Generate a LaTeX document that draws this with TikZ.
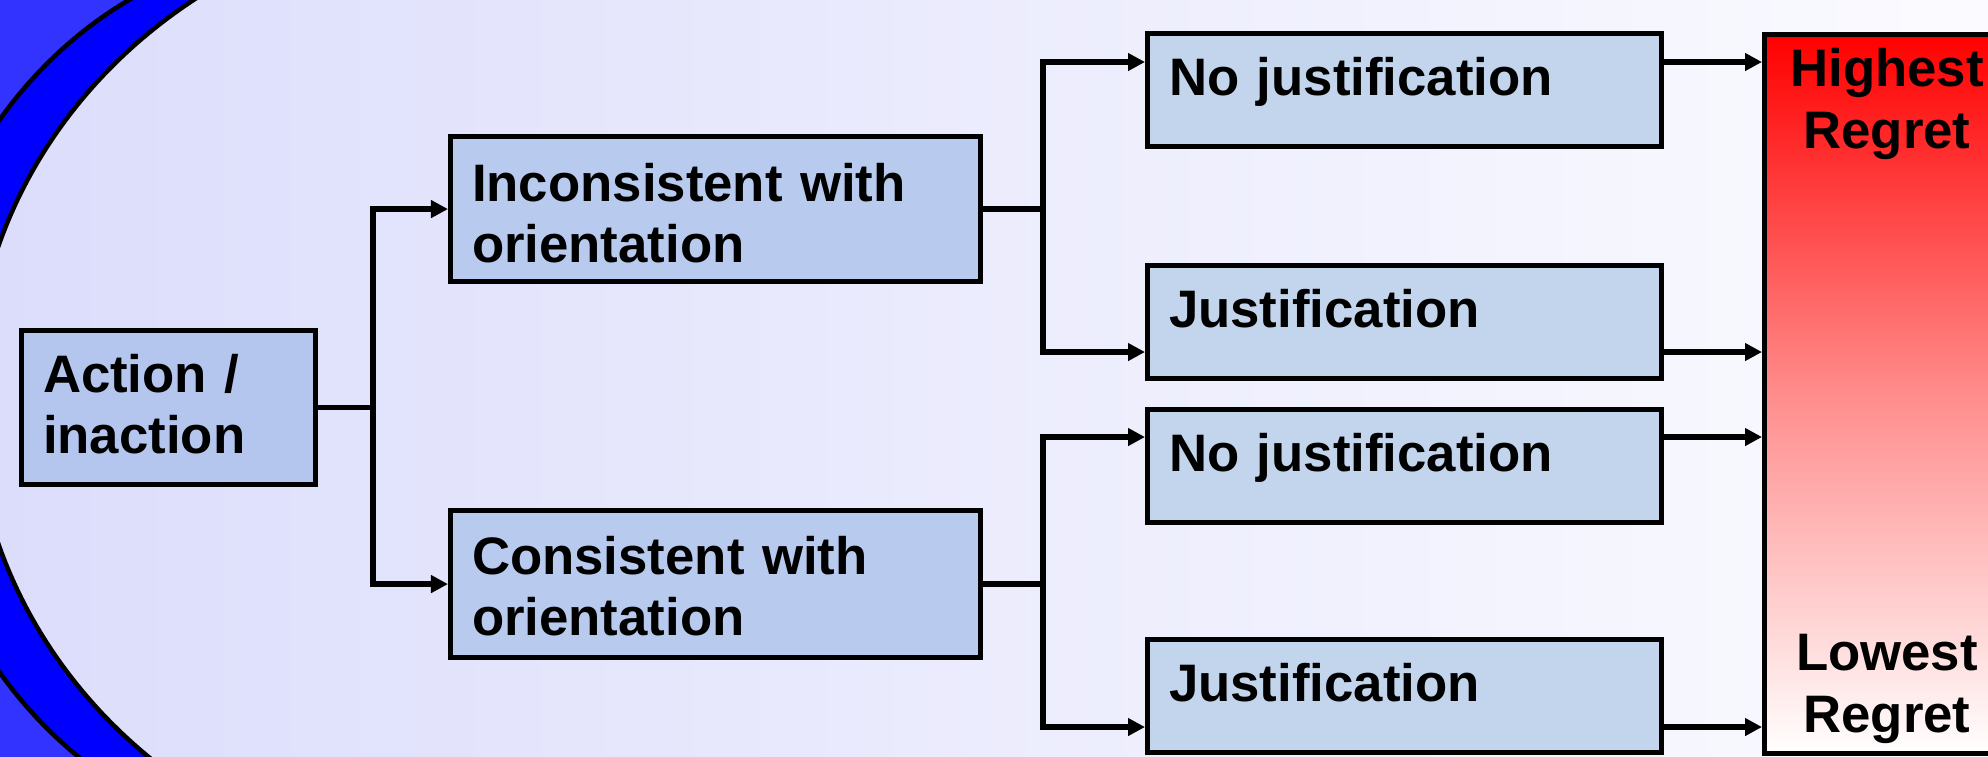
\documentclass[tikz,border=0pt]{standalone}
\usepackage{fontspec}
\setmainfont{Liberation Sans}
\usetikzlibrary{arrows.meta}
\definecolor{bgleft}{RGB}{220,221,251}
\definecolor{bgright}{RGB}{251,251,255}
\definecolor{ringout}{RGB}{51,51,255}
\definecolor{ringin}{RGB}{0,0,255}
\definecolor{actfill}{RGB}{180,198,238}
\definecolor{midfill}{RGB}{184,203,238}
\definecolor{endfill}{RGB}{195,213,236}
\definecolor{hot}{RGB}{255,0,0}
\newcommand{\boxfont}{\fontsize{15}{17.5}\selectfont\bfseries}
\tikzstyle{box} = [draw,line width=0.05cm,anchor=north west,align=left,inner xsep=0.215cm,inner ysep=0pt,font=\boxfont]
\tikzstyle{endbox} = [box,fill=endfill,text width=4.71cm,text height=0.615cm,text depth=0.515cm]
\tikzstyle{label} = [font=\boxfont,align=center,text width=2.4cm,inner sep=0pt,anchor=north]
\tikzstyle{conn} = [line width=0.052cm,line cap=rect]
\tikzstyle{arrow} = [conn,-{Triangle[length=0.17cm,width=0.17cm]}]

\begin{document}
\begin{tikzpicture}[x=0.01cm,y=-0.01cm]
	\def \outerarc {plot[domain=120:248,samples=100] ({324+411*cos(\x)},{396+450*sin(\x)})}
	\def \innerarc {plot[domain=125:240,samples=100] ({498+525*cos(\x)},{395+485*sin(\x)})}
	\useasboundingbox (0,0) rectangle (1988,756);
	\clip (0,0) rectangle (1988,756);
	
	% background and the two rings on the left
	\shade[left color=bgleft,right color=bgright] (-10,-10) rectangle (1998,766);
	\fill[ringin] \innerarc -- (-100,-100) -- (-100,900) -- cycle;
	\fill[ringout] \outerarc -- (-100,-100) -- (-100,900) -- cycle;
	\draw[line width=0.045cm] \outerarc;
	\draw[line width=0.045cm] \innerarc;
	
	% boxes
	\node[box,fill=actfill,text width=2.51cm,text height=0.615cm,text depth=0.925cm] (act) at (19,328) {Action /\\inaction};
	\node[box,fill=midfill,text width=4.87cm,text height=0.645cm,text depth=0.805cm] (incon) at (448,134) {Inconsistent with\\orientation};
	\node[box,fill=midfill,text width=4.87cm,text height=0.635cm,text depth=0.835cm] (cons) at (448,508) {Consistent with\\orientation};
	\node[endbox] (nj1) at (1145,31) {No justification};
	\node[endbox] (j1) at (1145,263) {Justification};
	\node[endbox] (nj2) at (1145,407) {No justification};
	\node[endbox] (j2) at (1145,637) {Justification};
	\node[draw,line width=0.05cm,anchor=north west,inner sep=0pt,minimum width=2.455cm,minimum height=7.19cm,top color=hot,bottom color=white,middle color=hot!45] (regret) at (1762,32) {};
	\node[label,text height=0.54cm] (high) at (1887,32) {Highest\\Regret};
	\node[label,text height=0.5cm] (low) at (1887,620) {Lowest\\Regret};
	
	% connectors
	\coordinate (trunk) at (373,0);
	\coordinate (fork) at (1043,0);
	\coordinate (y1) at (0,62);
	\coordinate (y2) at (0,352);
	\coordinate (y3) at (0,437);
	\coordinate (y4) at (0,727);
	
	\draw[conn] (act.east) -- (act.east -| trunk);
	\draw[conn] (trunk |- incon.west) -- (trunk |- cons.west);
	\draw[arrow] (trunk |- incon.west) -- (incon.west);
	\draw[arrow] (trunk |- cons.west) -- (cons.west);
	
	\draw[conn] (incon.east) -- (incon.east -| fork);
	\draw[conn] (fork |- y1) -- (fork |- y2);
	\draw[arrow] (fork |- y1) -- (nj1.west |- y1);
	\draw[arrow] (fork |- y2) -- (j1.west |- y2);
	
	\draw[conn] (cons.east) -- (cons.east -| fork);
	\draw[conn] (fork |- y3) -- (fork |- y4);
	\draw[arrow] (fork |- y3) -- (nj2.west |- y3);
	\draw[arrow] (fork |- y4) -- (j2.west |- y4);
	
	\foreach \b/\y in {nj1/y1,j1/y2,nj2/y3,j2/y4}
		\draw[arrow] (\b.east |- \y) -- (regret.west |- \y);
\end{tikzpicture}
\end{document}
